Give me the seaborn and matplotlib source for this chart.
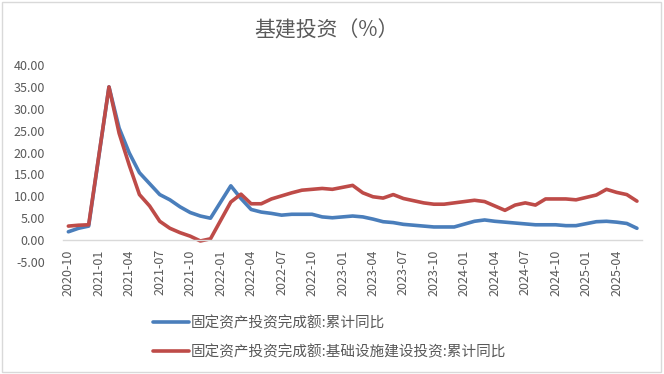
import numpy as np
import pandas as pd
import matplotlib
matplotlib.use("Agg")
import matplotlib.pyplot as plt
from matplotlib.patches import Rectangle
import seaborn as sns

# ==========================================
# datos (enero sin dato => la linea se une)

meses = [str(p) for p in pd.period_range("2020-10", "2025-06", freq="M")]

fai_total = [1.9, 2.7, 3.2, np.nan, 35.0, 25.6, 19.9, 15.4, 12.9, 10.4, 9.2, 7.6, 6.3, 5.5, 5.0,
             np.nan, 12.4, 9.5, 7.0, 6.4, 6.1, 5.7, 5.9, 5.9, 5.9, 5.3, 5.1,
             np.nan, 5.5, 5.3, 4.8, 4.2, 4.0, 3.6, 3.4, 3.2, 3.0, 3.0, 3.0,
             np.nan, 4.3, 4.6, 4.3, 4.1, 3.9, 3.7, 3.5, 3.5, 3.5, 3.3, 3.3,
             np.nan, 4.2, 4.3, 4.1, 3.8, 2.7]

fai_infra = [3.2, 3.4, 3.5, np.nan, 35.0, 24.4, 17.1, 10.4, 7.8, 4.3, 2.7, 1.7, 0.9, -0.2, 0.3,
             np.nan, 8.7, 10.5, 8.3, 8.3, 9.4, 10.1, 10.8, 11.4, 11.6, 11.8, 11.6,
             np.nan, 12.5, 10.8, 9.9, 9.6, 10.4, 9.5, 9.0, 8.5, 8.2, 8.2, 8.5,
             np.nan, 9.1, 8.8, 7.8, 6.8, 8.0, 8.5, 8.0, 9.4, 9.4, 9.4, 9.2,
             np.nan, 10.3, 11.6, 10.9, 10.4, 8.9]

series = ["固定资产投资完成额:累计同比", "固定资产投资完成额:基础设施建设投资:累计同比"]
colores = ["#4A7EBB", "#BE4B48"]
gris = "#595959"

# ==========================================
# armado de tabla larga para seaborn

idx = np.arange(len(meses))
df = pd.concat([
    pd.DataFrame({"idx": idx, "valor": fai_total, "serie": series[0]}),
    pd.DataFrame({"idx": idx, "valor": fai_infra, "serie": series[1]}),
]).dropna()

sns.set_theme(style="white")
plt.rcParams["font.family"] = ["Noto Sans CJK SC", "DejaVu Sans"]

fig = plt.figure(figsize=(6.64, 3.74), dpi=100)
ax = fig.add_axes([0.0953, 0.2995, 0.8716, 0.5267])

sns.lineplot(data=df, x="idx", y="valor", hue="serie", hue_order=series,
             palette=colores, linewidth=2.6, legend=False, sort=False, ax=ax,
             solid_joinstyle="round", solid_capstyle="round")

ax.set_xlim(-0.5, len(meses) - 0.5)
ax.set_ylim(-5, 40)
ax.set_xlabel("")
ax.set_ylabel("")

# eje y
yt = np.arange(-5, 41, 5)
ax.set_yticks(yt)
ax.set_yticklabels([f"{v:.2f}" for v in yt])
ax.tick_params(axis="y", length=0, pad=13, labelsize=9, labelcolor=gris)

# eje x en cero, marcas entre categorias, etiquetas cada 3 meses
for s in ["top", "right", "left"]:
    ax.spines[s].set_visible(False)
ax.spines["bottom"].set_position(("data", 0))
ax.spines["bottom"].set_color("#D9D9D9")
ax.spines["bottom"].set_linewidth(1)

bordes = list(np.arange(-0.5, len(meses) - 1, 3)) + [len(meses) - 0.5]
ax.set_xticks(bordes)
ax.set_xticklabels([""] * len(bordes))
pos_lab = idx[::3]
ax.set_xticks(pos_lab, minor=True)
ax.set_xticklabels([meses[i] for i in pos_lab], minor=True, rotation=90)
ax.tick_params(axis="x", which="major", length=4, width=1, color="#D9D9D9", direction="out")
ax.tick_params(axis="x", which="minor", length=0, pad=6.5, labelsize=9, labelcolor=gris)
ax.grid(False)

fig.text(0.491, 0.918, "基建投资（%）", ha="center", va="center", fontsize=15, color=gris)

fig.legend(handles=ax.get_lines()[:2], labels=series, loc="center left",
           bbox_to_anchor=(153 / 664, 1 - 337.5 / 374), frameon=False,
           fontsize=10.5, labelcolor=gris, handlelength=2.47, handletextpad=0.1,
           labelspacing=1.0, borderpad=0, borderaxespad=0)

fig.patches.append(Rectangle((0.003, 0.005), 0.992, 0.99, transform=fig.transFigure,
                             fill=False, edgecolor="#D9D9D9", linewidth=1))

fig.savefig("out.png", dpi=100)
